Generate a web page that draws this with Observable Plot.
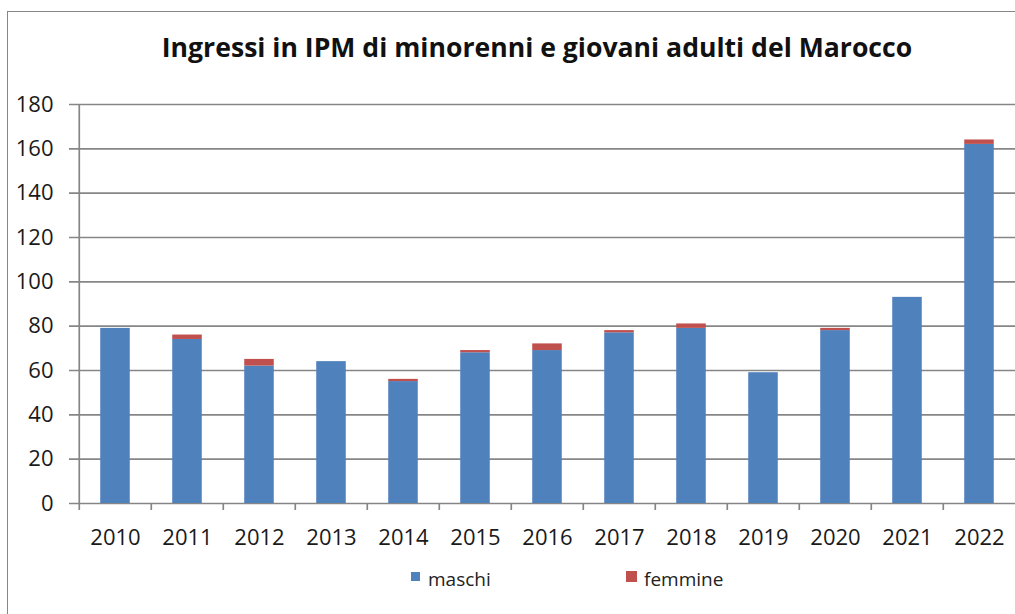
<!DOCTYPE html>
<html>
<head>
<meta charset="utf-8">
<script src="https://cdn.jsdelivr.net/npm/d3@7"></script>
<script src="https://cdn.jsdelivr.net/npm/@observablehq/plot@0.6"></script>
<style>
  html, body { margin: 0; padding: 0; background: #fff; }
  #wrap { position: relative; width: 1015px; height: 614px; overflow: hidden; font-family: "Open Sans", sans-serif; color: #1a1a1a; }
  #border { position: absolute; left: 7px; top: 11px; right: -10px; bottom: -10px; border-left: 1.5px solid #878787; border-top: 1.5px solid #878787; }
  #title { position: absolute; left: 537px; top: 34px; transform: translateX(-50%); white-space: nowrap; font-weight: 700; font-size: 26.6px; line-height: 1; color: #111; }
  #chart { position: absolute; left: 0; top: 0; }
  .leg { position: absolute; top: 570px; font-size: 19px; line-height: 1; white-space: nowrap; color: #222; }
  .sw { position: absolute; }
</style>
</head>
<body>
<div id="wrap">
  <div id="border"></div>
  <div id="chart"></div>
  <div id="title">Ingressi in IPM di minorenni e giovani adulti del Marocco</div>
  <div class="sw" style="left:411px; top:572px; width:9px; height:9px; background:#4f81bd;"></div>
  <div class="leg" style="left:428px;">maschi</div>
  <div class="sw" style="left:626px; top:571px; width:11px; height:11px; background:#c0504d;"></div>
  <div class="leg" style="left:644px;">femmine</div>
</div>
<script>
const years = ["2010","2011","2012","2013","2014","2015","2016","2017","2018","2019","2020","2021","2022"];
const maschi  = [79, 74, 62, 64, 55, 68, 69, 77, 79, 59, 78, 93, 162];
const femmine = [0, 2, 3, 0, 1, 1, 3, 1, 2, 0, 1, 0, 2];
const series = ["maschi", "femmine"];
const seriesColors = ["#4f81bd", "#c0504d"];
const yTicks = [0, 20, 40, 60, 80, 100, 120, 140, 160, 180];

const data = [
  ...years.map((y, i) => ({anno: y, sesso: "maschi", valore: maschi[i]})),
  ...years.map((y, i) => ({anno: y, sesso: "femmine", valore: femmine[i]}))
];

const left = 76, right = 1018;
const step = (right - left) / years.length;
const barW = 30;
const inset = (step - barW) / 2;

const plot = Plot.plot({
  width: 1015,
  height: 614,
  marginLeft: 76,
  marginRight: 0,
  marginTop: 104,
  marginBottom: 111,
  style: {fontFamily: "Open Sans, sans-serif", background: "transparent", color: "#1a1a1a", overflow: "visible"},
  x: {domain: years, range: [left, right], padding: 0, label: null},
  y: {domain: [0, 180], label: null},
  color: {domain: series, range: seriesColors},
  marks: [
    Plot.ruleY(yTicks, {y: d => d, stroke: "#868686", strokeWidth: 1.7, insetLeft: -7}),
    Plot.barY(data, {x: "anno", y: "valore", fill: "sesso", insetLeft: inset, insetRight: inset}),
    Plot.ruleX(years, {x: d => d, dx: -step / 2, y1: 0, y2: 0, insetBottom: -7, stroke: "#868686", strokeWidth: 1.7}),
    Plot.ruleX([years[0]], {x: d => d, dx: -step / 2, y1: 0, y2: 180, stroke: "#868686", strokeWidth: 1.7}),
    Plot.axisY(yTicks, {tickSize: 0, tickPadding: 23, fontSize: 22, label: null, fill: "#1a1a1a"}),
    Plot.axisX({tickSize: 0, tickPadding: 26, fontSize: 22, label: null, fill: "#1a1a1a"})
  ]
});
document.getElementById("chart").appendChild(plot);
</script>
</body>
</html>
